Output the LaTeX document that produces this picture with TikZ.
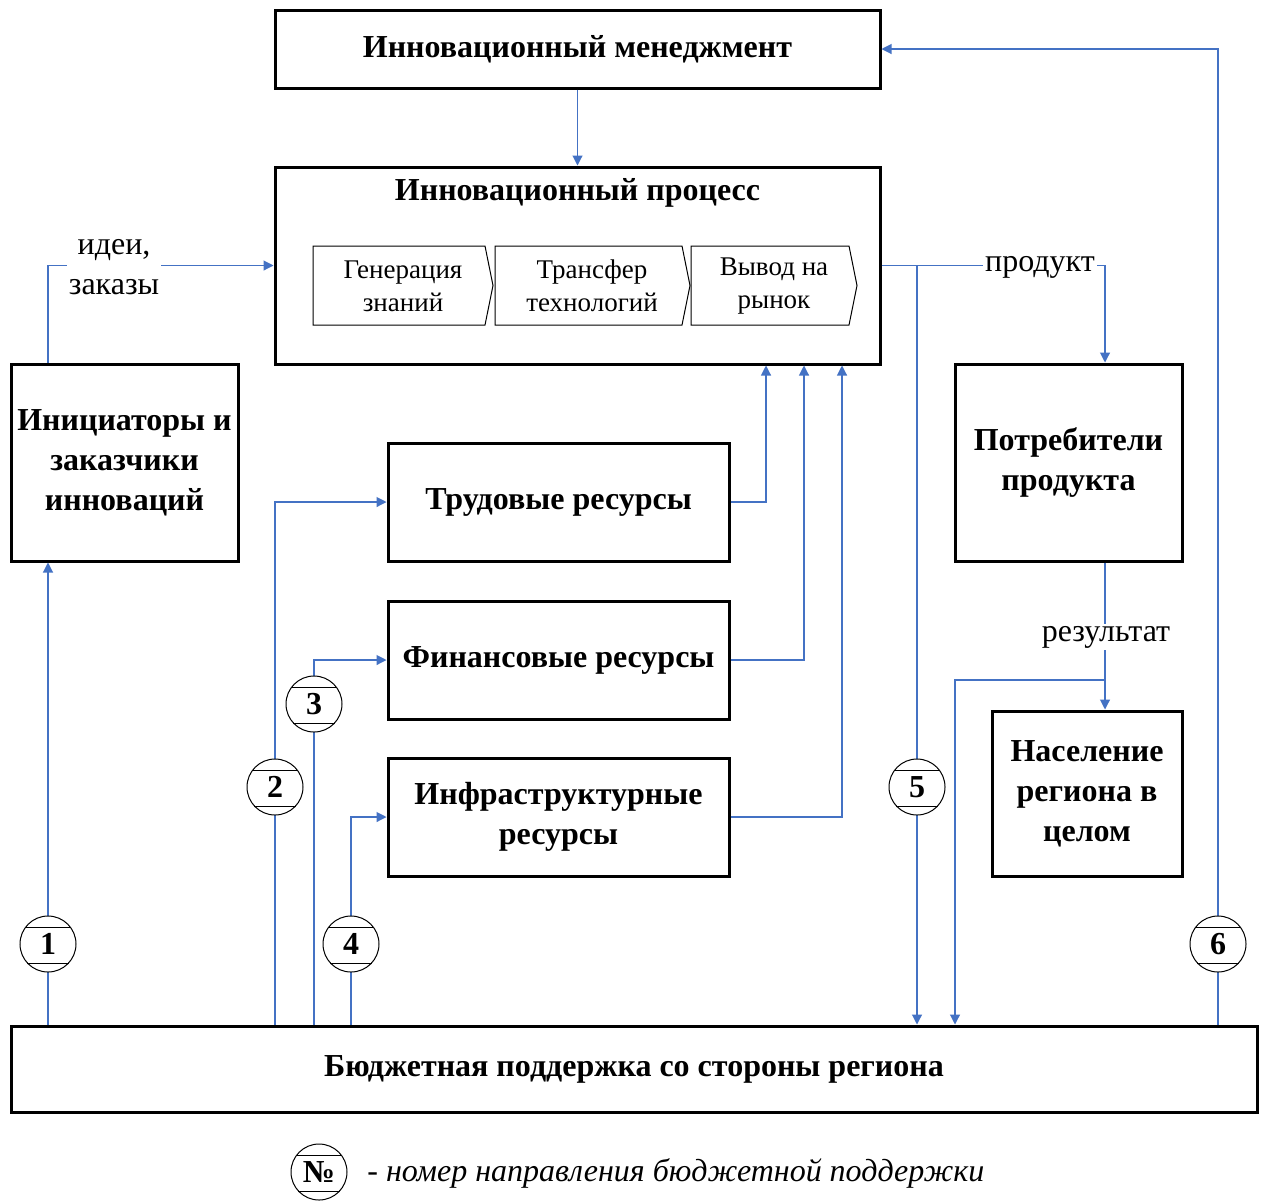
\documentclass[tikz,border=0pt]{standalone}
\usepackage{fontspec}
\setmainfont{Liberation Serif}
\usetikzlibrary{arrows.meta}
\definecolor{lblue}{HTML}{4472C4}
\newcommand\bcirc[4]{%
  \node[numcirc] (#1) at (#2) {#3};
  \draw[chord] ([shift={(-22.2,-17)}]#1.center) -- ([shift={(22.2,-17)}]#1.center);
  \draw[chord] ([shift={(-20.6,19)}]#1.center) -- ([shift={(20.6,19)}]#1.center);}
\begin{document}
\begin{tikzpicture}[x=0.5pt,y=-0.5pt,
 box/.style={draw=black,line width=1.5pt,fill=white,inner sep=0pt,align=center,font=\bfseries\fontsize{16}{20}\selectfont},
 conn/.style={draw=lblue,line width=0.55pt,-{Triangle[length=5pt,width=5pt]}},
 lbl/.style={fill=white,inner sep=1pt,font=\fontsize{16}{20}\selectfont,align=center},
 numcirc/.style={circle,draw=black,line width=0.5pt,fill=white,minimum size=28pt,inner sep=0pt,font=\bfseries\fontsize{16}{18}\selectfont},
 chord/.style={draw=black,line width=0.5pt},
 chev/.style={draw=black,line width=0.5pt},
 chevtext/.style={align=center,font=\fontsize{13.5}{16.5}\selectfont,inner sep=0pt}]
\useasboundingbox (0,0) rectangle (1262,1200);
\clip (0,0) rectangle (1262,1200);
\fill[white] (0,0) rectangle (1262,1200);

% boxes
\node[box,minimum width=302.5pt,minimum height=39pt] (mgmt) at (577.5,49) {Инновационный менеджмент};
\node[box,minimum width=302.5pt,minimum height=98.5pt] (proc) at (577.5,265.5) {};
\node[font=\bfseries\fontsize{16}{20}\selectfont,inner sep=0pt] (proct) at (577.5,193) {Инновационный процесс};
\node[box,minimum width=113.5pt,minimum height=98.5pt] (init) at (124.5,462.5) {Инициаторы и\\заказчики\\инноваций};
\node[box,minimum width=170.5pt,minimum height=59pt] (trud) at (558.5,502) {Трудовые ресурсы};
\node[box,minimum width=170.5pt,minimum height=59pt] (fin) at (558.5,660) {Финансовые ресурсы};
\node[box,minimum width=170.5pt,minimum height=59pt] (infra) at (558.5,817) {Инфраструктурные\\ресурсы};
\node[box,minimum width=113.5pt,minimum height=98.5pt] (cons) at (1068.5,462.5) {Потребители\\продукта};
\node[box,minimum width=95pt,minimum height=82.5pt] (pop) at (1087,793.5) {Население\\региона в\\целом};
\node[box,minimum width=623pt,minimum height=43pt] (budget) at (634,1069) {Бюджетная поддержка со стороны региона};

% chevrons
\draw[chev] (313,246) -- (485,246) -- (493,285.5) -- (485,325) -- (313,325) -- cycle;
\draw[chev] (495,246) -- (682,246) -- (690,285.5) -- (682,325) -- (495,325) -- cycle;
\draw[chev] (691,246) -- (849,246) -- (857,285.5) -- (849,325) -- (691,325) -- cycle;
\node[chevtext] (ch1) at (403,286) {Генерация\\знаний};
\node[chevtext] (ch2) at (592,286) {Трансфер\\технологий};
\node[chevtext] (ch3) at (774,286) {Вывод на\\рынок};

% coordinates
\coordinate (p1) at (48,944);
\coordinate (p2) at (275,787);
\coordinate (p3) at (314,704);
\coordinate (p4) at (351,944);
\coordinate (p5) at (917,787);
\coordinate (p6) at (1218,944);
\coordinate (kx) at (1105,0);
\coordinate (rb) at (1105,680);
\coordinate (q) at (955,680);
\coordinate (r1) at (766,0);
\coordinate (r2) at (804,0);
\coordinate (r3) at (842,0);

% connectors
\draw[conn] (mgmt.south) -- (proc.north);
\draw[conn] (init.north -| p1) |- (proc.west);
\node[lbl] (ideas) at (114,267) {идеи,\\заказы};
\draw[conn] (proc.east) -| (cons.north -| kx);
\node[lbl] (prod) at (1040,267) {продукт};
\draw[conn] (proc.east -| p5) -- (budget.north -| p5);
\draw[conn] (cons.south -| kx) -- (pop.north -| kx);
\node[lbl] (res) at (1106,637) {результат};
\draw[conn] (rb) -- (q) -- (budget.north -| q);
\draw[conn] (budget.north -| p6) |- (mgmt.east);
\draw[conn] (budget.north -| p1) -- (init.south -| p1);
\draw[conn] (budget.north -| p2) |- (trud.west);
\draw[conn] (budget.north -| p3) |- (fin.west);
\draw[conn] (budget.north -| p4) |- (infra.west);
\draw[conn] (trud.east) -| (proc.south -| r1);
\draw[conn] (fin.east) -| (proc.south -| r2);
\draw[conn] (infra.east) -| (proc.south -| r3);

% circles
\bcirc{c1}{p1}{1}{}
\bcirc{c2}{p2}{2}{}
\bcirc{c3}{p3}{3}{}
\bcirc{c4}{p4}{4}{}
\bcirc{c5}{p5}{5}{}
\bcirc{c6}{p6}{6}{}

% legend
\bcirc{cl}{319,1172}{№}{}
\node[anchor=west,inner sep=0pt,font=\itshape\fontsize{16}{18}\selectfont] (legend) at (367,1173) {- номер направления бюджетной поддержки};
\end{tikzpicture}
\end{document}
